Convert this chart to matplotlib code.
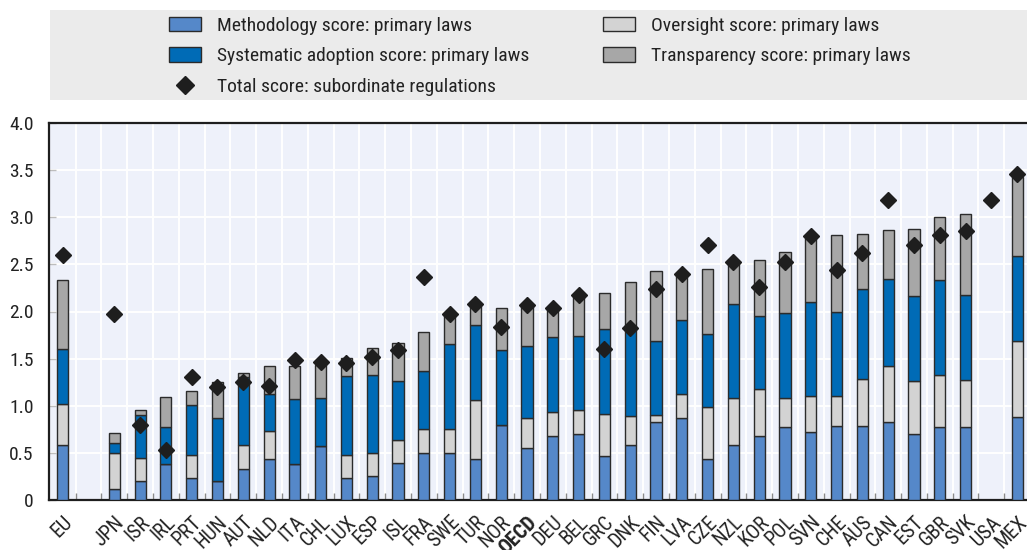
import numpy as np
import matplotlib
matplotlib.use("Agg")
import matplotlib.pyplot as plt
from matplotlib import font_manager
from matplotlib.lines import Line2D
from matplotlib.patches import Patch, Rectangle

# pick a narrow font if one is installed
names = {f.name for f in font_manager.fontManager.ttflist}
fam = "DejaVu Sans"
for cand in ["Liberation Sans Narrow", "Roboto Condensed", "DejaVu Sans Condensed"]:
    if cand in names:
        fam = cand
        break
plt.rcParams["font.family"] = [fam, "DejaVu Sans"]

# data
countries = ["EU", "", "JPN", "ISR", "IRL", "PRT", "HUN", "AUT", "NLD", "ITA", "CHL",
             "LUX", "ESP", "ISL", "FRA", "SWE", "TUR", "NOR", "OECD", "DEU", "BEL",
             "GRC", "DNK", "FIN", "LVA", "CZE", "NZL", "KOR", "POL", "SVN", "CHE",
             "AUS", "CAN", "EST", "GBR", "SVK", "USA", "MEX"]
nan = np.nan
methodology = [0.58, nan, 0.12, 0.20, 0.38, 0.23, 0.20, 0.33, 0.43, 0.38, 0.57,
               0.23, 0.25, 0.39, 0.50, 0.50, 0.43, 0.80, 0.55, 0.68, 0.70,
               0.47, 0.58, 0.83, 0.87, 0.43, 0.58, 0.68, 0.77, 0.72, 0.79,
               0.78, 0.83, 0.70, 0.77, 0.77, nan, 0.88]
oversight = [0.44, nan, 0.38, 0.25, 0.00, 0.25, 0.00, 0.25, 0.30, 0.00, 0.00,
             0.25, 0.25, 0.25, 0.25, 0.25, 0.63, 0.00, 0.32, 0.25, 0.25,
             0.44, 0.31, 0.07, 0.25, 0.56, 0.50, 0.50, 0.31, 0.38, 0.31,
             0.50, 0.59, 0.56, 0.56, 0.50, nan, 0.81]
systematic = [0.58, nan, 0.11, 0.45, 0.39, 0.53, 0.67, 0.73, 0.39, 0.69, 0.51,
              0.84, 0.83, 0.62, 0.62, 0.90, 0.80, 0.79, 0.76, 0.80, 0.79,
              0.90, 0.93, 0.79, 0.79, 0.77, 1.00, 0.77, 0.90, 1.00, 0.90,
              0.96, 0.93, 0.90, 1.00, 0.91, nan, 0.90]
transparency = [0.73, nan, 0.10, 0.05, 0.32, 0.15, 0.38, 0.04, 0.30, 0.35, 0.35,
                0.19, 0.28, 0.41, 0.41, 0.31, 0.21, 0.45, 0.44, 0.31, 0.43,
                0.39, 0.49, 0.74, 0.50, 0.69, 0.44, 0.60, 0.65, 0.68, 0.81,
                0.58, 0.52, 0.72, 0.67, 0.85, nan, 0.84]
subordinate = [2.60, nan, 1.97, 0.80, 0.53, 1.30, 1.20, 1.25, 1.21, 1.49, 1.46,
               1.45, 1.52, 1.59, 2.37, 1.97, 2.08, 1.84, 2.07, 2.04, 2.17,
               1.60, 1.83, 2.24, 2.40, 2.71, 2.53, 2.26, 2.52, 2.80, 2.44,
               2.62, 3.18, 2.71, 2.81, 2.85, 3.18, 3.46]

c_meth = "#5588C9"
c_syst = "#006BB6"
c_over = "#D3D3D3"
c_tran = "#A7A7A7"
edge = "#2b2b2b"
txt = "#222222"

fig = plt.figure(figsize=(10.27, 5.5), dpi=100)
ax = fig.add_axes([49 / 1027, 50 / 550, 978 / 1027, 377 / 550])
ax.set_facecolor("#EEF1FA")

x = np.arange(len(countries))
w = 0.43
bottom = np.zeros(len(countries))
for vals, col in [(methodology, c_meth), (oversight, c_over),
                  (systematic, c_syst), (transparency, c_tran)]:
    v = np.array(vals, dtype=float)
    ax.bar(x, v, w, bottom=bottom, color=col, edgecolor=edge, linewidth=1.0, zorder=3)
    bottom = bottom + np.nan_to_num(v)

ax.plot(x, subordinate, ls="none", marker="D", ms=7.8, color="#1e1e1e", zorder=4,
        clip_on=False)

ax.set_xlim(-0.53, 37.38)
ax.set_ylim(0, 4.0)
ax.set_yticks(np.arange(0, 4.01, 0.5))
ax.set_yticklabels(["0"] + [f"{v:.1f}" for v in np.arange(0.5, 4.01, 0.5)])
ax.set_xticks(x)
ax.set_xticklabels(countries, rotation=45, ha="right", rotation_mode="anchor")
for lab in ax.get_xticklabels():
    if lab.get_text() == "OECD":
        lab.set_fontweight("bold")
ax.set_xticks(np.arange(0.5, len(countries) - 1, 1), minor=True)

ax.tick_params(axis="x", which="major", length=0, pad=9, labelsize=14.5, labelcolor=txt)
ax.tick_params(axis="x", which="minor", direction="in", length=5, color="#8a8a8a", width=1)
ax.tick_params(axis="y", direction="in", length=5, color="#bdbdbd", width=1,
               labelsize=14, labelcolor=txt, pad=11)

ax.grid(True, which="minor", axis="x", color="white", lw=1.4, zorder=0)
ax.grid(True, which="major", axis="y", color="white", lw=1.4, zorder=0)
ax.set_axisbelow(True)

for s in ["left", "bottom", "top"]:
    ax.spines[s].set_color("#1e1e1e")
    ax.spines[s].set_linewidth(1.6)
ax.spines["right"].set_visible(False)

# legend box
fig.patches.append(Rectangle((50 / 1027, 1 - 100 / 550), 977 / 1027, 90 / 550,
                             transform=fig.transFigure, facecolor="#EBEBEB",
                             edgecolor="none", zorder=0))
left_handles = [
    Patch(facecolor=c_meth, edgecolor=edge, label="Methodology score: primary laws"),
    Patch(facecolor=c_syst, edgecolor=edge, label="Systematic adoption score: primary laws"),
    Line2D([], [], ls="none", marker="D", ms=9, color="#1e1e1e",
           label="Total score: subordinate regulations"),
]
right_handles = [
    Patch(facecolor=c_over, edgecolor=edge, label="Oversight score: primary laws"),
    Patch(facecolor=c_tran, edgecolor=edge, label="Transparency score: primary laws"),
]
leg_kw = dict(loc="upper left", frameon=False, fontsize=14, handlelength=1.65,
              handleheight=0.77, handletextpad=0.8, labelspacing=0.63,
              borderpad=0, borderaxespad=0)
for hs, x0 in [(left_handles, 169), (right_handles, 603)]:
    leg = fig.legend(handles=hs, bbox_to_anchor=(x0 / 1027, 1 - 17 / 550), **leg_kw)
    for t in leg.get_texts():
        t.set_color(txt)

fig.savefig("out.png", dpi=100)
